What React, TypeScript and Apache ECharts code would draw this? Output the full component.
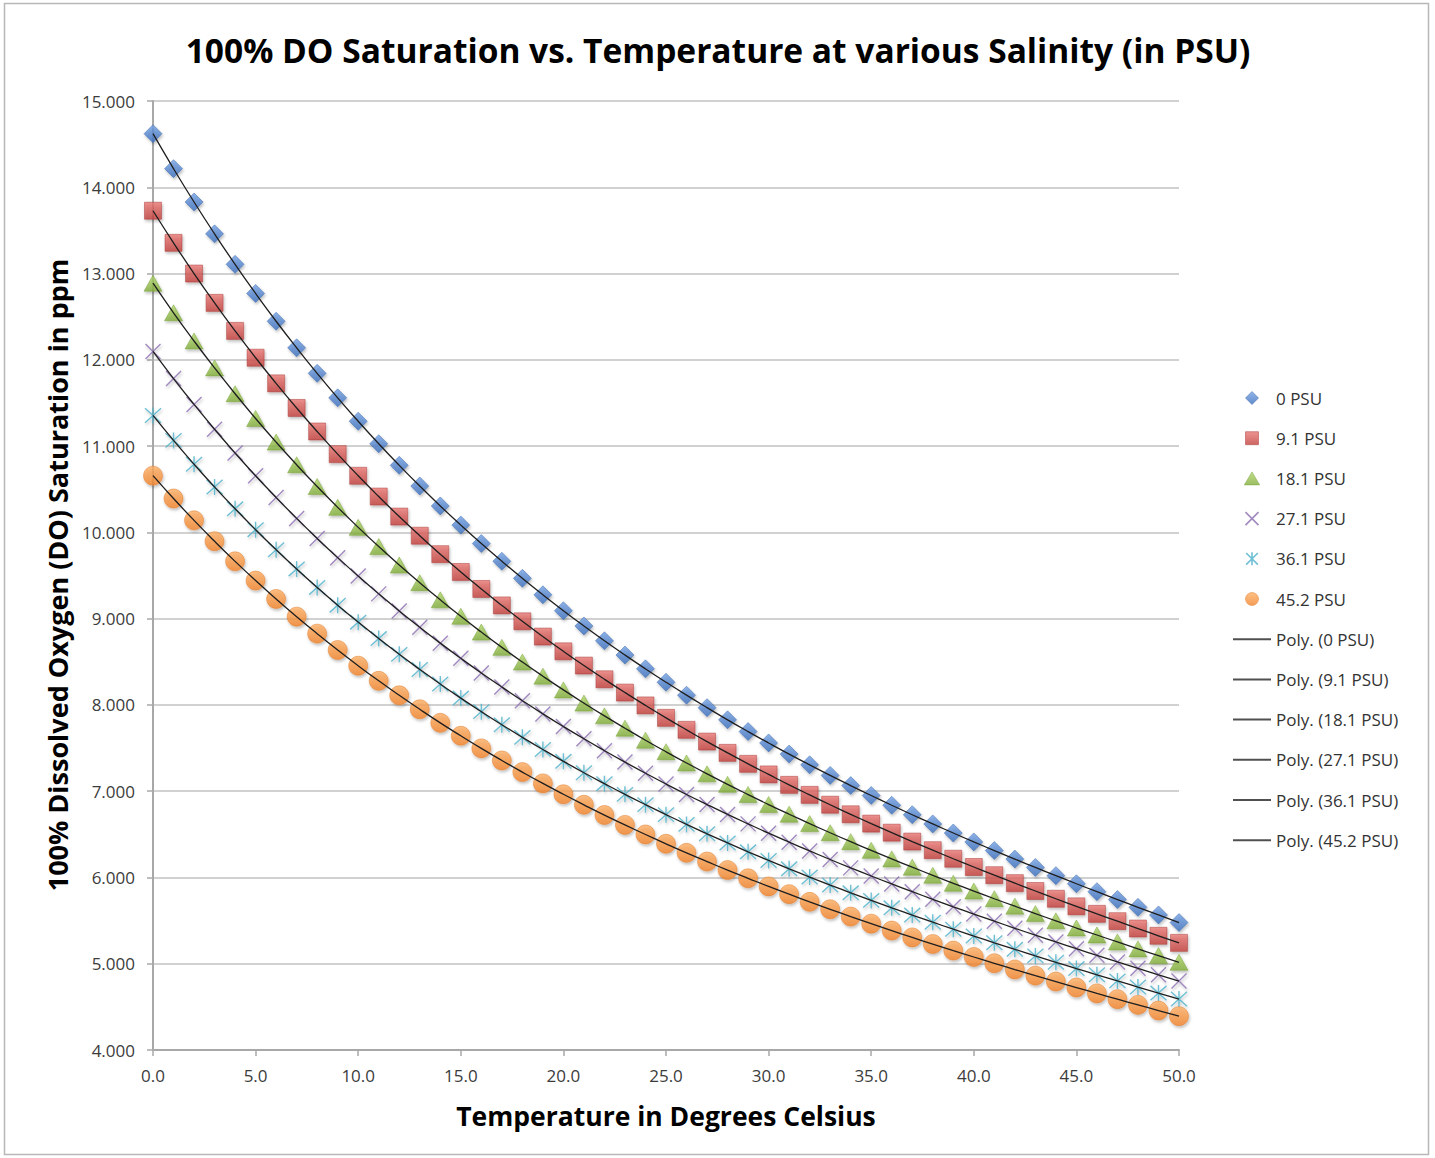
import React, { useEffect, useRef } from "react";
import * as echarts from "echarts";

const temperatures = [
  0, 1, 2, 3, 4, 5, 6, 7, 8, 9, 10, 11, 12, 13, 14, 15, 16, 17, 18, 19, 20,
  21, 22, 23, 24, 25, 26, 27, 28, 29, 30, 31, 32, 33, 34, 35, 36, 37, 38, 39,
  40, 41, 42, 43, 44, 45, 46, 47, 48, 49, 50,
];

const psu0 = [
  14.621, 14.216, 13.829, 13.46, 13.107, 12.77, 12.447, 12.139, 11.843, 11.559,
  11.288, 11.027, 10.777, 10.537, 10.306, 10.084, 9.87, 9.665, 9.467, 9.276,
  9.092, 8.915, 8.743, 8.578, 8.418, 8.263, 8.113, 7.968, 7.827, 7.691, 7.559,
  7.43, 7.305, 7.183, 7.065, 6.95, 6.837, 6.727, 6.62, 6.515, 6.412, 6.312,
  6.213, 6.116, 6.021, 5.927, 5.835, 5.744, 5.654, 5.565, 5.477,
];
const psu9_1 = [
  13.728, 13.356, 13.0, 12.66, 12.335, 12.024, 11.727, 11.442, 11.169, 10.907,
  10.656, 10.415, 10.183, 9.961, 9.747, 9.541, 9.344, 9.153, 8.969, 8.792,
  8.621, 8.456, 8.297, 8.143, 7.994, 7.85, 7.711, 7.575, 7.444, 7.317, 7.194,
  7.073, 6.957, 6.843, 6.732, 6.624, 6.519, 6.416, 6.316, 6.217, 6.121, 6.026,
  5.934, 5.843, 5.753, 5.665, 5.578, 5.493, 5.408, 5.324, 5.242,
];
const psu18_1 = [
  12.888, 12.545, 12.218, 11.906, 11.607, 11.32, 11.046, 10.783, 10.531, 10.29,
  10.058, 9.835, 9.621, 9.416, 9.218, 9.027, 8.844, 8.667, 8.497, 8.333, 8.174,
  8.021, 7.873, 7.73, 7.591, 7.457, 7.327, 7.201, 7.079, 6.961, 6.845, 6.733,
  6.624, 6.518, 6.415, 6.314, 6.215, 6.119, 6.025, 5.932, 5.842, 5.753, 5.667,
  5.581, 5.497, 5.414, 5.333, 5.252, 5.172, 5.094, 5.016,
];
const psu27_1 = [
  12.097, 11.783, 11.483, 11.195, 10.92, 10.656, 10.404, 10.162, 9.93, 9.707,
  9.493, 9.287, 9.089, 8.899, 8.716, 8.54, 8.37, 8.207, 8.049, 7.896, 7.749,
  7.607, 7.47, 7.337, 7.208, 7.083, 6.962, 6.845, 6.731, 6.621, 6.513, 6.409,
  6.307, 6.208, 6.111, 6.017, 5.925, 5.835, 5.747, 5.66, 5.576, 5.493, 5.411,
  5.331, 5.252, 5.174, 5.097, 5.021, 4.947, 4.872, 4.799,
];
const psu36_1 = [
  11.355, 11.066, 10.79, 10.526, 10.273, 10.031, 9.799, 9.576, 9.362, 9.156,
  8.959, 8.769, 8.586, 8.411, 8.242, 8.079, 7.922, 7.77, 7.624, 7.483, 7.346,
  7.214, 7.087, 6.963, 6.844, 6.728, 6.615, 6.506, 6.4, 6.297, 6.197, 6.1,
  6.005, 5.912, 5.822, 5.734, 5.648, 5.564, 5.481, 5.4, 5.321, 5.243, 5.167,
  5.091, 5.017, 4.944, 4.872, 4.801, 4.73, 4.66, 4.591,
];
const psu45_2 = [
  10.657, 10.392, 10.139, 9.897, 9.664, 9.441, 9.228, 9.023, 8.826, 8.636,
  8.454, 8.279, 8.111, 7.949, 7.792, 7.642, 7.496, 7.356, 7.221, 7.09, 6.964,
  6.842, 6.723, 6.609, 6.498, 6.39, 6.285, 6.184, 6.085, 5.99, 5.896, 5.806,
  5.717, 5.631, 5.546, 5.464, 5.384, 5.305, 5.228, 5.152, 5.078, 5.005, 4.933,
  4.862, 4.793, 4.724, 4.656, 4.589, 4.523, 4.457, 4.392,
];

const seriesNames = ["0 PSU", "9.1 PSU", "18.1 PSU", "27.1 PSU", "36.1 PSU", "45.2 PSU"];
const seriesValues = [psu0, psu9_1, psu18_1, psu27_1, psu36_1, psu45_2];

const titleText = "100% DO Saturation vs. Temperature at various Salinity (in PSU)";
const xTitle = "Temperature in Degrees Celsius";
const yTitle = "100% Dissolved Oxygen (DO) Saturation in ppm";

const FONT = '"Open Sans", "Noto Sans", sans-serif';

const grad = (a: string, b: string) =>
  new echarts.graphic.LinearGradient(0, 0, 0, 1, [
    { offset: 0, color: a },
    { offset: 1, color: b },
  ]);

const X_PATH = "path://M0,0L20,20M20,0L0,20";
const STAR_PATH = "path://M1,1L19,19M19,1L1,19M10,0L10,20";
const DIAMOND_PATH = "path://M10,0L20,10L10,20L0,10Z";
const RECT_PATH = "path://M0,0H20V20H0Z";
const TRI_PATH = "path://M10,0L20,17H0Z";
const CIRCLE_PATH = "path://M10,0A10,10 0 1 1 10,20A10,10 0 1 1 10,0Z";
const LINE_PATH = "path://M0,0H38V2H0Z";

const markerStyles: any[] = [
  { symbol: "diamond", icon: DIAMOND_PATH, size: 18, itemStyle: { color: grad("#74a2e4", "#3c6fbd"), borderColor: "#3563a6", borderWidth: 0.6 } },
  { symbol: "rect", icon: RECT_PATH, size: 17, itemStyle: { color: grad("#e97874", "#c13f3b"), borderColor: "#a63634", borderWidth: 0.6 } },
  { symbol: "triangle", icon: TRI_PATH, size: [18, 16], itemStyle: { color: grad("#b0d66a", "#82ad3c"), borderColor: "#74a034", borderWidth: 0.6 } },
  { symbol: X_PATH, icon: X_PATH, size: 15, itemStyle: { color: "rgba(0,0,0,0)", borderColor: "#8a6db0", borderWidth: 1.4 } },
  { symbol: STAR_PATH, icon: STAR_PATH, size: 16, itemStyle: { color: "rgba(0,0,0,0)", borderColor: "#4bb0c9", borderWidth: 1.4 } },
  { symbol: "circle", icon: CIRCLE_PATH, size: 19, itemStyle: { color: grad("#fdb066", "#f3842c"), borderColor: "#e07a28", borderWidth: 0.6 } },
];

export default function App() {
  const ref = useRef<HTMLDivElement>(null);

  useEffect(() => {
    document.body.style.margin = "0";
    if (!ref.current) return;
    const chart = echarts.init(ref.current, undefined, { renderer: "svg" });

    const scatterSeries = seriesNames.map((name, i) => ({
      name,
      type: "scatter",
      z: 2,
      symbol: markerStyles[i].symbol,
      symbolSize: markerStyles[i].size,
      itemStyle: {
        ...markerStyles[i].itemStyle,
        shadowBlur: 3,
        shadowColor: "rgba(0,0,0,0.3)",
        shadowOffsetX: 1,
        shadowOffsetY: 2,
      },
      emphasis: { disabled: true },
      data: temperatures.map((t, j) => [t, seriesValues[i][j]]),
    }));

    const lineSeries = seriesNames.map((name, i) => ({
      name: `Poly. (${name})`,
      type: "line",
      z: 3,
      symbol: "none",
      showSymbol: false,
      smooth: true,
      lineStyle: { color: "#1e1e1e", width: 1.3 },
      itemStyle: { color: "#1e1e1e" },
      emphasis: { disabled: true },
      data: temperatures.map((t, j) => [t, seriesValues[i][j]]),
    }));

    const legendData = [
      ...seriesNames.map((n, i) => ({
        name: n,
        icon: markerStyles[i].icon,
        itemStyle: {
          borderWidth: i === 3 || i === 4 ? 1.6 : 0.6,
          shadowBlur: 0,
          shadowOffsetX: 0,
          shadowOffsetY: 0,
        },
      })),
      ...seriesNames.map((n) => ({
        name: `Poly. (${n})`,
        icon: LINE_PATH,
        itemStyle: { color: "#505050", borderWidth: 0 },
      })),
    ];

    chart.setOption({
      animation: false,
      backgroundColor: "#ffffff",
      grid: { left: 153, top: 101, width: 1026, height: 949, containLabel: false },
      legend: {
        orient: "vertical",
        left: 1233,
        top: 388,
        padding: 0,
        itemWidth: 38,
        itemHeight: 13,
        itemGap: 20.2,
        selectedMode: false,
        symbolKeepAspect: true,
        textStyle: { fontFamily: FONT, fontSize: 17, lineHeight: 20, color: "#333333" },
        data: legendData,
      },
      xAxis: {
        type: "value",
        min: 0,
        max: 50,
        interval: 5,
        axisLine: { show: true, lineStyle: { color: "#a8a8a8", width: 2 } },
        axisTick: { show: true, length: 6, lineStyle: { color: "#a8a8a8", width: 1.5 } },
        splitLine: { show: false },
        axisLabel: {
          margin: 17,
          fontFamily: FONT,
          fontSize: 17,
          color: "#3c3c3c",
          formatter: (v: number) => v.toFixed(1),
        },
      },
      yAxis: {
        type: "value",
        min: 4,
        max: 15,
        interval: 1,
        axisLine: { show: true, lineStyle: { color: "#a8a8a8", width: 2 } },
        axisTick: { show: true, length: 6, lineStyle: { color: "#a8a8a8", width: 1.5 } },
        splitLine: { show: true, lineStyle: { color: "#c2c2c2", width: 1.6 } },
        axisLabel: {
          margin: 18,
          fontFamily: FONT,
          fontSize: 17,
          color: "#3c3c3c",
          formatter: (v: number) => v.toFixed(3),
        },
      },
      graphic: [
        {
          type: "rect",
          silent: true,
          z: -10,
          shape: { x: 4.5, y: 3.5, width: 1424, height: 1151 },
          style: { fill: "none", stroke: "#b8b8b8", lineWidth: 1.5 },
        },
        {
          type: "text",
          x: 718,
          y: 50,
          style: {
            text: titleText,
            fontFamily: FONT,
            fontWeight: "bold",
            fontSize: 33.5,
            fill: "#000000",
            align: "center",
            verticalAlign: "middle",
          },
        },
        {
          type: "text",
          x: 666,
          y: 1116,
          style: {
            text: xTitle,
            fontFamily: FONT,
            fontWeight: "bold",
            fontSize: 26.5,
            fill: "#000000",
            align: "center",
            verticalAlign: "middle",
          },
        },
        {
          type: "text",
          x: 57,
          y: 575,
          rotation: Math.PI / 2,
          style: {
            text: yTitle,
            fontFamily: FONT,
            fontWeight: "bold",
            fontSize: 27,
            fill: "#000000",
            align: "center",
            verticalAlign: "middle",
          },
        },
      ],
      series: [...scatterSeries, ...lineSeries],
    });

    return () => chart.dispose();
  }, []);

  return (
    <div
      ref={ref}
      style={{ position: "absolute", left: 0, top: 0, width: 1435, height: 1158 }}
    />
  );
}
